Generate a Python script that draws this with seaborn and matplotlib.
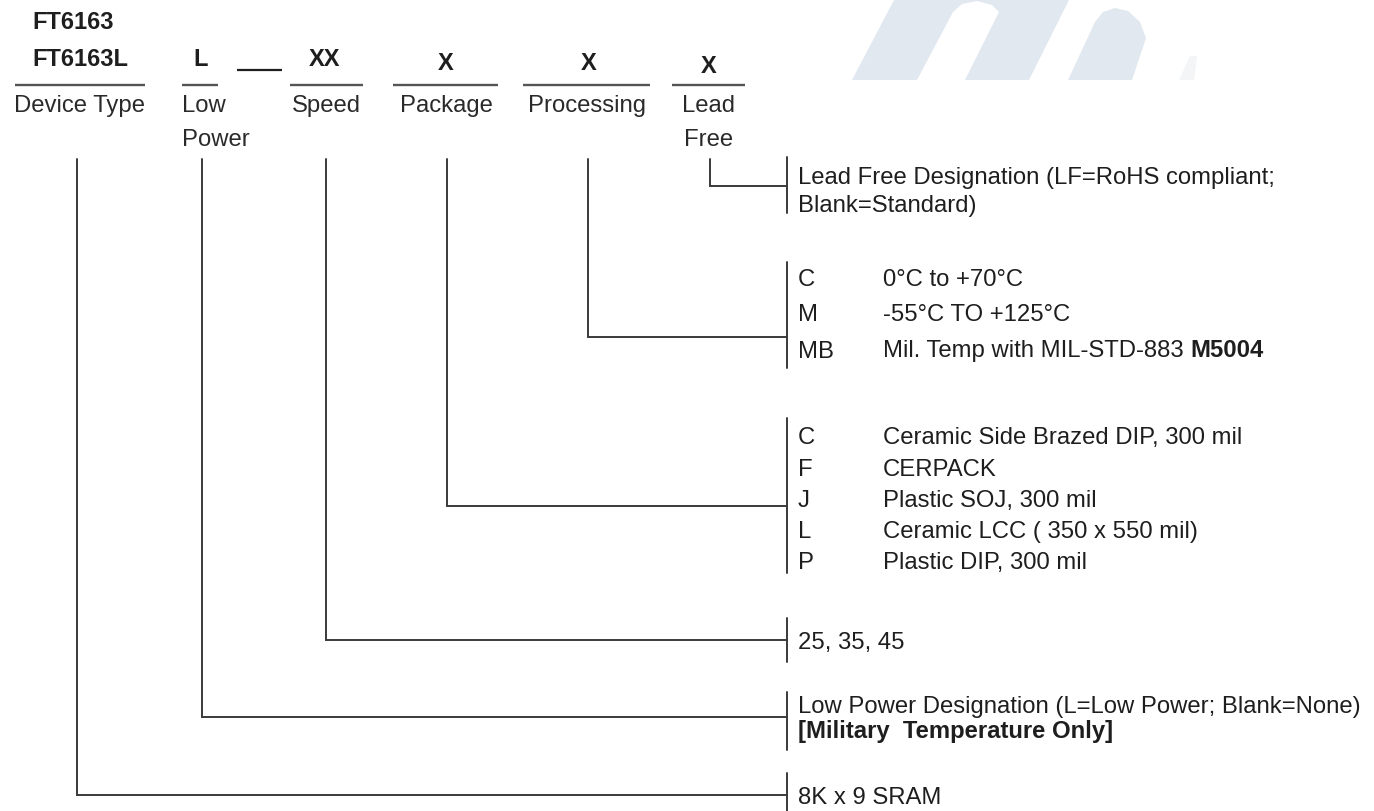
import matplotlib
matplotlib.use("Agg")
import matplotlib.pyplot as plt
from matplotlib.patches import Polygon
import seaborn as sns

# ---------------- data ----------------
part_numbers = ["FT6163", "FT6163L"]
field_codes = ["L", "XX", "X", "X", "X"]
field_names = ["Device Type", "Low\nPower", "Speed", "Package", "Processing", "Lead\nFree"]

lead_free_lines = ["Lead Free Designation (LF=RoHS compliant;", "Blank=Standard)"]
processing_codes = ["C", "M", "MB"]
processing_desc = ["0°C to +70°C", "-55°C TO +125°C", "Mil. Temp with MIL-STD-883"]
processing_bold_suffix = "M5004"
package_codes = ["C", "F", "J", "L", "P"]
package_desc = ["Ceramic Side Brazed DIP, 300 mil", "CERPACK", "Plastic SOJ, 300 mil",
                "Ceramic LCC ( 350 x 550 mil)", "Plastic DIP, 300 mil"]
speed_desc = "25, 35, 45"
low_power_lines = ["Low Power Designation (L=Low Power; Blank=None)", "[Military  Temperature Only]"]
device_desc = "8K x 9 SRAM"

# ---------------- layout ----------------
W, H = 1374, 811
sns.set_theme(style="white")
plt.rcParams['font.family'] = ['Liberation Sans', 'DejaVu Sans']

fig = plt.figure(figsize=(W / 100, H / 100), dpi=100)
ax = fig.add_axes([0, 0, 1, 1])
ax.set_xlim(0, W)
ax.set_ylim(H, 0)
ax.axis("off")

LC = "#3a3a3a"
TC = "#1e1e1e"
LW = 1.4
BODY = 17.2
HEAD = 17

# watermark (light logo shapes, top right)
wm = "#e2e8f0"
shape1 = [(852, 80), (894, 0), (1069, 0), (1029, 80), (965, 80), (999, 12), (992, 5),
          (977, 1), (962, 4), (953, 12), (917, 80)]
shape2 = [(1068, 80), (1095, 22), (1103, 12), (1115, 8), (1128, 11), (1140, 22),
          (1146, 38), (1132, 80)]
shape3 = [(1179, 80), (1190, 56), (1197, 56), (1194, 80)]
ax.add_patch(Polygon(shape1, closed=True, color=wm, lw=0, zorder=0))
ax.add_patch(Polygon(shape2, closed=True, color=wm, lw=0, zorder=0))
ax.add_patch(Polygon(shape3, closed=True, color="#f4f5f7", lw=0, zorder=0))


def txt(x, y, s, **kw):
    """place text so that its capital letters are centred on y"""
    kw.setdefault("fontsize", BODY)
    kw.setdefault("color", TC)
    kw.setdefault("ha", "left")
    half = kw["fontsize"] / 72 * 100 * 0.716 / 2
    return ax.text(x, y + half, s, va="baseline", **kw)


# header part numbers
txt(32, 21, part_numbers[0], fontsize=HEAD, fontweight="bold")
txt(32, 58, part_numbers[1], fontsize=HEAD, fontweight="bold")

code_x = [201, 325, 446, 589, 709]
code_y = [58, 58, 62, 62, 65]
for c, x, y in zip(field_codes, code_x, code_y):
    txt(x, y, c, fontsize=HEAD, fontweight="bold", ha="center")
ax.plot([237, 282], [70, 70], color=TC, lw=1.6, solid_capstyle="butt")

# separator lines under fields
seg = [(15, 145), (182, 218), (290, 363), (393, 498), (523, 650), (672, 745)]
for a, b in seg:
    ax.plot([a, b], [85, 85], color="#555555", lw=1.7, solid_capstyle="butt")

# field names
name_x = [80, 182, 326, 446, 587, 709]
name_ha = ["center", "left", "center", "center", "center", "center"]
for n, x, ha in zip(field_names, name_x, name_ha):
    for k, part in enumerate(n.split("\n")):
        txt(x, 103 + 34 * k, part, color="#2a2a2a", ha=ha)

# connectors: vertical from field down, horizontal to bracket
BX = 787
vert_x = [77, 202, 326, 447, 588, 710]
vert_end = [795, 717, 640, 506, 337, 186]
TOP = 159
for x, y in zip(vert_x, vert_end):
    ax.plot([x, x, BX], [TOP, y, y], color=LC, lw=LW, solid_joinstyle="miter")

# brackets
brackets = [(157, 213), (262, 368), (418, 573), (618, 662), (692, 750), (773, 811)]
for a, b in brackets:
    ax.plot([BX, BX], [a, b], color=LC, lw=LW)

TX = 798
DX = 883
# lead free
for y, s in zip([175, 203], lead_free_lines):
    txt(TX, y, s)

# processing
proc_y = [277, 312, 348]
for c, d, y in zip(processing_codes, processing_desc, proc_y):
    txt(TX, y + (1 if c == "MB" else 0), c)
    t = txt(DX, y, d)
fig.canvas.draw()
r = fig.canvas.get_renderer()
bb = t.get_window_extent(r)
xe = ax.transData.inverted().transform((bb.x1, bb.y0))[0]
txt(xe + 7, proc_y[2], processing_bold_suffix, fontweight="bold")

# package
pkg_y = [435, 467, 498, 529, 560]
for c, d, y in zip(package_codes, package_desc, pkg_y):
    txt(TX, y, c)
    txt(DX, y, d)

# speed
txt(TX, 640, speed_desc)

# low power
txt(TX, 704, low_power_lines[0])
txt(TX, 729, low_power_lines[1], fontweight="bold")

# device
txt(TX, 795, device_desc)

fig.savefig("out.png", dpi=100, facecolor="white")
